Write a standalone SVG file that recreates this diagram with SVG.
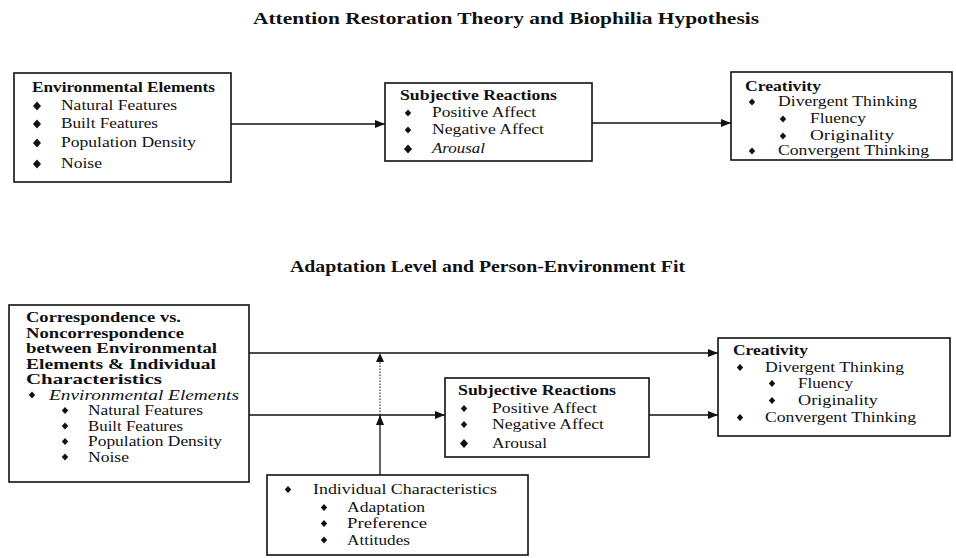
<svg xmlns="http://www.w3.org/2000/svg" xmlns:xlink="http://www.w3.org/1999/xlink" width="956" height="558" viewBox="0 0 956 558">
<style>
text{font-family:"Liberation Serif","Times New Roman",serif;font-size:14.5px;fill:#111}
.t{font-size:17px;font-weight:bold}
.b{font-weight:bold}
.i{font-style:italic}
.box{fill:#fff;stroke:#111;stroke-width:1.6}
.ln{fill:none;stroke:#111;stroke-width:1.3}
.dot{fill:none;stroke:#333;stroke-width:1.2;stroke-dasharray:1.5 1.5}
.bul{fill:#111}
</style>
<defs>
<path id="dB" d="M0,-4.5 L4,0 L0,4.5 L-4,0 Z"/>
<path id="dS" d="M0,-3.5 L3.2,0 L0,3.5 L-3.2,0 Z"/>
<marker id="ah" markerUnits="userSpaceOnUse" markerWidth="12" markerHeight="10" refX="10" refY="5" orient="auto">
<path d="M0,1 L10,5 L0,9 Z" fill="#111"/>
</marker>
</defs>
<rect width="956" height="558" fill="#fff"/>

<text class="t" x="253" y="24" textLength="506" lengthAdjust="spacingAndGlyphs">Attention Restoration Theory and Biophilia Hypothesis</text>
<text class="t" x="290" y="272" textLength="395" lengthAdjust="spacingAndGlyphs">Adaptation Level and Person-Environment Fit</text>

<g id="connectors">
<line class="ln" x1="231" y1="124" x2="385" y2="124" marker-end="url(#ah)"/>
<line class="ln" x1="592" y1="123" x2="731" y2="123" marker-end="url(#ah)"/>
<line class="ln" x1="248" y1="353" x2="718" y2="353" marker-end="url(#ah)"/>
<line class="ln" x1="248" y1="415" x2="445" y2="415" marker-end="url(#ah)"/>
<line class="ln" x1="649" y1="415" x2="718" y2="415" marker-end="url(#ah)"/>
<line class="ln" x1="380" y1="475" x2="380" y2="415" marker-end="url(#ah)"/>
<line class="dot" x1="380" y1="415" x2="380" y2="362"/>
<path d="M380,353 L384,362 L376,362 Z" fill="#111"/>
</g>

<g id="env-elements">
<rect class="box" x="14" y="73" width="217" height="109"/>
<text class="b" x="32" y="92" textLength="183" lengthAdjust="spacingAndGlyphs">Environmental Elements</text>
<use href="#dB" class="bul" x="37" y="106"/>
<text x="61" y="110" textLength="116" lengthAdjust="spacingAndGlyphs">Natural Features</text>
<use href="#dB" class="bul" x="37" y="124"/>
<text x="61" y="128" textLength="97" lengthAdjust="spacingAndGlyphs">Built Features</text>
<use href="#dB" class="bul" x="37" y="143"/>
<text x="61" y="147" textLength="135" lengthAdjust="spacingAndGlyphs">Population Density</text>
<use href="#dB" class="bul" x="37" y="164"/>
<text x="61" y="168" textLength="41" lengthAdjust="spacingAndGlyphs">Noise</text>
</g>

<g id="subjective-1">
<rect class="box" x="385" y="83" width="207" height="78"/>
<text class="b" x="400" y="100" textLength="157" lengthAdjust="spacingAndGlyphs">Subjective Reactions</text>
<use href="#dS" class="bul" x="408" y="113"/>
<text x="432" y="117" textLength="104" lengthAdjust="spacingAndGlyphs">Positive Affect</text>
<use href="#dS" class="bul" x="408" y="130"/>
<text x="432" y="134" textLength="112" lengthAdjust="spacingAndGlyphs">Negative Affect</text>
<use href="#dB" class="bul" x="408" y="149"/>
<text class="i" x="432" y="153" textLength="53" lengthAdjust="spacingAndGlyphs">Arousal</text>
</g>

<g id="creativity-1">
<rect class="box" x="731" y="72" width="221" height="88"/>
<text class="b" x="745" y="91" textLength="76" lengthAdjust="spacingAndGlyphs">Creativity</text>
<use href="#dS" class="bul" x="752" y="102"/>
<text x="778" y="106" textLength="139" lengthAdjust="spacingAndGlyphs">Divergent Thinking</text>
<use href="#dS" class="bul" x="783" y="119"/>
<text x="810" y="123" textLength="56" lengthAdjust="spacingAndGlyphs">Fluency</text>
<use href="#dS" class="bul" x="783" y="136"/>
<text x="810" y="140" textLength="84" lengthAdjust="spacingAndGlyphs">Originality</text>
<use href="#dS" class="bul" x="752" y="151"/>
<text x="778" y="155" textLength="151" lengthAdjust="spacingAndGlyphs">Convergent Thinking</text>
</g>

<g id="correspondence">
<rect class="box" x="9" y="305" width="240" height="177"/>
<text class="b" x="26" y="322" textLength="155" lengthAdjust="spacingAndGlyphs">Correspondence vs.</text>
<text class="b" x="26" y="337.5" textLength="158" lengthAdjust="spacingAndGlyphs">Noncorrespondence</text>
<text class="b" x="26" y="353" textLength="191" lengthAdjust="spacingAndGlyphs">between Environmental</text>
<text class="b" x="26" y="368.5" textLength="190" lengthAdjust="spacingAndGlyphs">Elements &amp; Individual</text>
<text class="b" x="26" y="384" textLength="136" lengthAdjust="spacingAndGlyphs">Characteristics</text>
<use href="#dS" class="bul" x="32" y="395"/>
<text class="i" x="49" y="399.5" textLength="190" lengthAdjust="spacingAndGlyphs">Environmental Elements</text>
<use href="#dS" class="bul" x="65" y="410.5"/>
<text x="88" y="415" textLength="115" lengthAdjust="spacingAndGlyphs">Natural Features</text>
<use href="#dS" class="bul" x="65" y="426"/>
<text x="88" y="430.5" textLength="95" lengthAdjust="spacingAndGlyphs">Built Features</text>
<use href="#dS" class="bul" x="65" y="441.5"/>
<text x="88" y="446" textLength="134" lengthAdjust="spacingAndGlyphs">Population Density</text>
<use href="#dS" class="bul" x="65" y="457"/>
<text x="88" y="461.5" textLength="41" lengthAdjust="spacingAndGlyphs">Noise</text>
</g>

<g id="subjective-2">
<rect class="box" x="445" y="378" width="204" height="79"/>
<text class="b" x="458" y="395" textLength="158" lengthAdjust="spacingAndGlyphs">Subjective Reactions</text>
<use href="#dS" class="bul" x="464" y="408.5"/>
<text x="492" y="413" textLength="105" lengthAdjust="spacingAndGlyphs">Positive Affect</text>
<use href="#dS" class="bul" x="464" y="424.5"/>
<text x="492" y="429" textLength="112" lengthAdjust="spacingAndGlyphs">Negative Affect</text>
<use href="#dB" class="bul" x="464" y="443.5"/>
<text x="492" y="448" textLength="55" lengthAdjust="spacingAndGlyphs">Arousal</text>
</g>

<g id="creativity-2">
<rect class="box" x="718" y="338" width="232" height="98"/>
<text class="b" x="733" y="355" textLength="75" lengthAdjust="spacingAndGlyphs">Creativity</text>
<use href="#dS" class="bul" x="740" y="367.5"/>
<text x="765" y="372" textLength="139" lengthAdjust="spacingAndGlyphs">Divergent Thinking</text>
<use href="#dS" class="bul" x="772" y="383.5"/>
<text x="798" y="388" textLength="55" lengthAdjust="spacingAndGlyphs">Fluency</text>
<use href="#dS" class="bul" x="772" y="400.5"/>
<text x="798" y="405" textLength="80" lengthAdjust="spacingAndGlyphs">Originality</text>
<use href="#dS" class="bul" x="740" y="417.5"/>
<text x="765" y="422" textLength="151" lengthAdjust="spacingAndGlyphs">Convergent Thinking</text>
</g>

<g id="individual">
<rect class="box" x="267" y="475" width="261" height="80"/>
<use href="#dS" class="bul" x="288" y="489.5"/>
<text x="313" y="494" textLength="184" lengthAdjust="spacingAndGlyphs">Individual Characteristics</text>
<use href="#dS" class="bul" x="324" y="507.5"/>
<text x="347" y="512" textLength="78" lengthAdjust="spacingAndGlyphs">Adaptation</text>
<use href="#dS" class="bul" x="324" y="523.5"/>
<text x="347" y="528" textLength="80" lengthAdjust="spacingAndGlyphs">Preference</text>
<use href="#dS" class="bul" x="324" y="540"/>
<text x="347" y="544.5" textLength="63" lengthAdjust="spacingAndGlyphs">Attitudes</text>
</g>
</svg>
